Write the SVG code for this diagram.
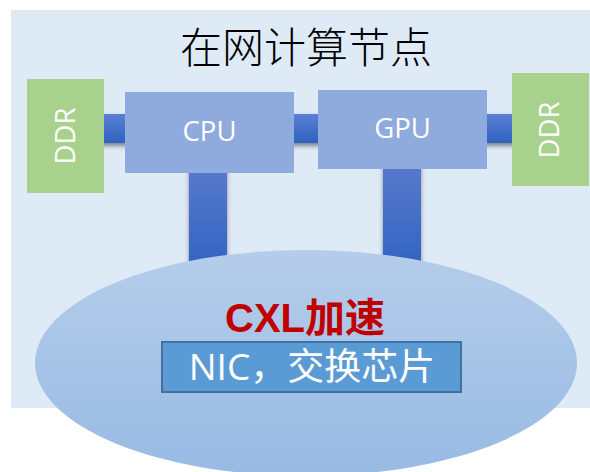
<svg xmlns="http://www.w3.org/2000/svg" width="590" height="472" viewBox="0 0 590 472">
  <defs>
    <linearGradient id="busH" x1="0" y1="0" x2="0" y2="1">
      <stop offset="0" stop-color="#5b80d4"/>
      <stop offset="1" stop-color="#2f62c1"/>
    </linearGradient>
    <linearGradient id="busV" x1="0" y1="0" x2="0" y2="1">
      <stop offset="0" stop-color="#5779cb"/>
      <stop offset="1" stop-color="#3063c2"/>
    </linearGradient>
    <linearGradient id="cloud" x1="0" y1="0" x2="0" y2="1">
      <stop offset="0" stop-color="#b5cdea"/>
      <stop offset="1" stop-color="#98bae3"/>
    </linearGradient>
    <filter id="shadowDown" x="-10%" y="-30%" width="120%" height="180%">
      <feGaussianBlur in="SourceAlpha" stdDeviation="2"/>
      <feOffset dy="3" result="b"/>
      <feFlood flood-color="#404040" flood-opacity="0.6"/>
      <feComposite in2="b" operator="in"/>
      <feMerge><feMergeNode/><feMergeNode in="SourceGraphic"/></feMerge>
    </filter>
    <filter id="shadowSide" x="-30%" y="-10%" width="160%" height="120%">
      <feGaussianBlur in="SourceAlpha" stdDeviation="2.2"/>
      <feOffset dx="0" dy="0" result="b"/>
      <feFlood flood-color="#404040" flood-opacity="0.55"/>
      <feComposite in2="b" operator="in"/>
      <feMerge><feMergeNode/><feMergeNode in="SourceGraphic"/></feMerge>
    </filter>
    <style>
      .chip { fill: #8faadc; }
      .ddr { fill: #a9d18e; }
      .lbl { font-family: "Open Sans", "Noto Sans", sans-serif; font-size: 27.5px; fill: #ffffff; text-anchor: middle; }
      .title { font-family: "Noto Sans CJK SC", sans-serif; font-weight: 300; font-size: 42px; fill: #000000; text-anchor: middle; }
      .cxl { font-family: "Liberation Sans", "Noto Sans CJK SC", sans-serif; font-weight: bold; font-size: 40px; fill: #c00000; text-anchor: middle; }
      .nic { font-family: "Open Sans", "Noto Sans CJK SC", sans-serif; font-size: 37px; fill: #ffffff; text-anchor: middle; }
    </style>
  </defs>

  <!-- compute node frame -->
  <g id="node-frame">
    <rect x="11" y="10" width="579" height="398" fill="#deeaf6"/>
    <text class="title" x="306" y="63">在网计算节点</text>
  </g>

  <!-- memory bus and device links -->
  <g id="connectors">
    <rect x="100" y="114" width="416" height="29" fill="url(#busH)" filter="url(#shadowDown)"/>
    <rect x="189" y="170" width="38" height="100" fill="url(#busV)" filter="url(#shadowSide)"/>
    <rect x="383" y="166" width="38" height="104" fill="url(#busV)" filter="url(#shadowSide)"/>
  </g>

  <!-- CXL accelerated fabric -->
  <g id="cxl">
    <ellipse cx="306" cy="363" rx="271" ry="113" fill="url(#cloud)"/>
    <text class="cxl" x="305" y="332">CXL加速</text>
  </g>

  <g id="nic">
    <rect x="162" y="342" width="299" height="50" fill="#5b9bd5" stroke="#41719c" stroke-width="2"/>
    <text class="nic" x="312" y="380">NIC，交换芯片</text>
  </g>

  <g id="ddr-left">
    <rect class="ddr" x="27" y="79" width="77" height="114"/>
    <text class="lbl" transform="translate(74.5 136) rotate(-90)" x="0" y="0">DDR</text>
  </g>

  <g id="cpu">
    <rect class="chip" x="125" y="92" width="169" height="81"/>
    <text class="lbl" x="209.5" y="141">CPU</text>
  </g>

  <g id="gpu">
    <rect class="chip" x="318" y="90" width="169" height="79"/>
    <text class="lbl" x="402.5" y="138">GPU</text>
  </g>

  <g id="ddr-right">
    <rect class="ddr" x="512" y="73" width="77" height="113"/>
    <text class="lbl" transform="translate(558.5 130) rotate(-90)" x="0" y="0">DDR</text>
  </g>
</svg>
